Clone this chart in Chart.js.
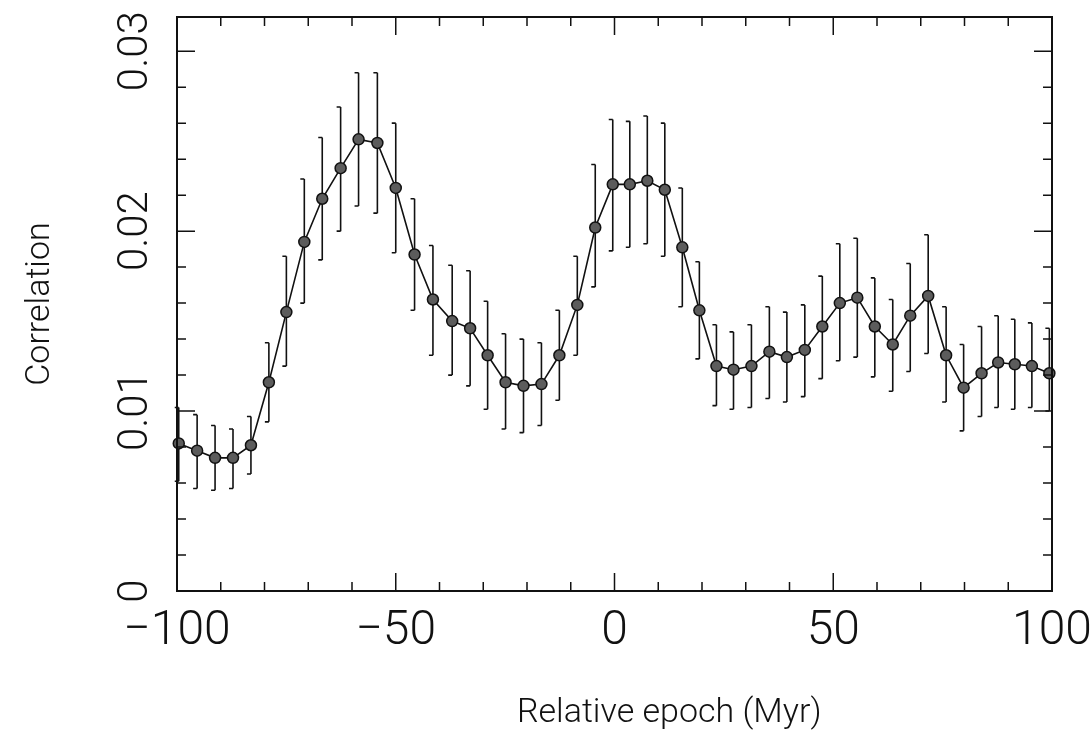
<!DOCTYPE html>
<html>
<head>
<meta charset="utf-8">
<script src="https://cdn.jsdelivr.net/npm/chart.js@4.4.1/dist/chart.umd.min.js"></script>
<style>
  html, body { margin: 0; padding: 0; background: #ffffff; }
  #wrap { width: 1090px; height: 747px; position: relative; }
</style>
</head>
<body>
<div id="wrap"><canvas id="c" width="1090" height="747"></canvas></div>
<script>
// ---- data ----
const epochs = [-99.6, -95.4, -91.3, -87.2, -83.1, -79.0, -75.0, -70.9, -66.8, -62.6,
                -58.5, -54.2, -50.0, -45.7, -41.5, -37.1, -33.0, -29.0, -24.9, -20.8,
                -16.7, -12.6, -8.5, -4.4, -0.4, 3.5, 7.5, 11.5, 15.5, 19.4,
                23.3, 27.2, 31.3, 35.4, 39.4, 43.5, 47.5, 51.5, 55.5, 59.5,
                63.6, 67.6, 71.7, 75.8, 79.8, 83.9, 87.7, 91.5, 95.4, 99.4];
const correlation = [0.0082, 0.0078, 0.0074, 0.0074, 0.0081, 0.0116, 0.0155, 0.0194, 0.0218, 0.0235,
                     0.0251, 0.0249, 0.0224, 0.0187, 0.0162, 0.0150, 0.0146, 0.0131, 0.0116, 0.0114,
                     0.0115, 0.0131, 0.0159, 0.0202, 0.0226, 0.0226, 0.0228, 0.0223, 0.0191, 0.0156,
                     0.0125, 0.0123, 0.0125, 0.0133, 0.0130, 0.0134, 0.0147, 0.0160, 0.0163, 0.0147,
                     0.0137, 0.0153, 0.0164, 0.0131, 0.0113, 0.0121, 0.0127, 0.0126, 0.0125, 0.0121];
const errHigh = [0.0102, 0.0098, 0.0092, 0.0090, 0.0097, 0.0138, 0.0186, 0.0229, 0.0252, 0.0269,
                 0.0288, 0.0288, 0.0260, 0.0218, 0.0192, 0.0181, 0.0178, 0.0161, 0.0143, 0.0140,
                 0.0138, 0.0156, 0.0186, 0.0237, 0.0262, 0.0261, 0.0264, 0.0260, 0.0224, 0.0183,
                 0.0148, 0.0144, 0.0148, 0.0158, 0.0155, 0.0159, 0.0175, 0.0193, 0.0196, 0.0174,
                 0.0162, 0.0182, 0.0198, 0.0158, 0.0137, 0.0147, 0.0153, 0.0151, 0.0149, 0.0146];
const errLow = [0.0061, 0.0057, 0.0056, 0.0057, 0.0065, 0.0094, 0.0125, 0.0160, 0.0184, 0.0200,
                0.0214, 0.0210, 0.0188, 0.0156, 0.0131, 0.0120, 0.0114, 0.0101, 0.0090, 0.0088,
                0.0092, 0.0106, 0.0131, 0.0169, 0.0189, 0.0191, 0.0193, 0.0186, 0.0158, 0.0129,
                0.0103, 0.0101, 0.0102, 0.0107, 0.0105, 0.0108, 0.0118, 0.0128, 0.0130, 0.0119,
                0.0111, 0.0122, 0.0132, 0.0105, 0.0089, 0.0097, 0.0102, 0.0101, 0.0102, 0.0100];
const xTickValues = [-100, -50, 0, 50, 100];
const xTickLabels = ['\u2212100', '\u221250', '0', '50', '100'];
const yTickValues = [0, 0.01, 0.02, 0.03];
const yTickLabels = ['0', '0.01', '0.02', '0.03'];
const xMinorTicks = [-100, -90, -80, -70, -60, -50, -40, -30, -20, -10, 0, 10, 20, 30, 40, 50, 60, 70, 80, 90, 100];
const yMinorTicks = [0, 0.002, 0.004, 0.006, 0.008, 0.01, 0.012, 0.014, 0.016, 0.018, 0.02, 0.022, 0.024, 0.026, 0.028, 0.03];
const xTitle = 'Relative epoch (Myr)';
const yTitle = 'Correlation';

// ---- styles ----
const FONT = 'Roboto, "Liberation Sans", sans-serif';
const INK = '#111111';
const MAJOR_LEN = 18, MINOR_LEN = 9;

function isMajor(v, list) {
  return list.some(m => Math.abs(m - v) < 1e-9);
}

const framePlugin = {
  id: 'frameTicks',
  afterDraw(chart) {
    const { ctx, chartArea: a, scales: { x, y } } = chart;
    ctx.save();
    ctx.strokeStyle = INK;
    ctx.lineWidth = 2;
    ctx.strokeRect(a.left, a.top, a.right - a.left, a.bottom - a.top);
    ctx.lineWidth = 1.5;
    ctx.beginPath();
    xMinorTicks.forEach(v => {
      const px = x.getPixelForValue(v);
      const len = isMajor(v, xTickValues) ? MAJOR_LEN : MINOR_LEN;
      ctx.moveTo(px, a.bottom); ctx.lineTo(px, a.bottom - len);
      ctx.moveTo(px, a.top); ctx.lineTo(px, a.top + len);
    });
    yMinorTicks.forEach(v => {
      const py = y.getPixelForValue(v);
      const len = isMajor(v, yTickValues) ? MAJOR_LEN : MINOR_LEN;
      ctx.moveTo(a.left, py); ctx.lineTo(a.left + len, py);
      ctx.moveTo(a.right, py); ctx.lineTo(a.right - len, py);
    });
    ctx.stroke();
    // rotated y tick labels
    ctx.fillStyle = INK;
    ctx.font = '300 42px ' + FONT;
    ctx.textAlign = 'center';
    ctx.textBaseline = 'alphabetic';
    yTickValues.forEach((v, i) => {
      const py = y.getPixelForValue(v);
      ctx.save();
      ctx.translate(a.left - 30, py);
      ctx.rotate(-Math.PI / 2);
      ctx.fillText(yTickLabels[i], 0, 0);
      ctx.restore();
    });
    // x axis title (sits right of centre in the reference)
    ctx.font = '300 34px ' + FONT;
    ctx.textAlign = 'center';
    ctx.textBaseline = 'middle';
    ctx.fillText(xTitle, x.getPixelForValue(12.5), 713);
    ctx.restore();
  }
};

const errorBarPlugin = {
  id: 'errorBars',
  beforeDatasetsDraw(chart) {
    const { ctx, scales: { x, y } } = chart;
    ctx.save();
    ctx.strokeStyle = INK;
    ctx.lineWidth = 1.6;
    ctx.beginPath();
    epochs.forEach((e, i) => {
      const px = x.getPixelForValue(e);
      const yh = y.getPixelForValue(errHigh[i]);
      const yl = y.getPixelForValue(errLow[i]);
      ctx.moveTo(px, yh); ctx.lineTo(px, yl);
      ctx.moveTo(px - 4, yh); ctx.lineTo(px, yh);
      ctx.moveTo(px - 4, yl); ctx.lineTo(px, yl);
    });
    ctx.stroke();
    ctx.restore();
  }
};

const points = epochs.map((e, i) => ({ x: e, y: correlation[i] }));

new Chart(document.getElementById('c'), {
  type: 'line',
  data: {
    datasets: [{
      data: points,
      borderColor: INK,
      borderWidth: 1.6,
      tension: 0,
      pointRadius: 5.5,
      pointBackgroundColor: '#5c5c5c',
      pointBorderColor: INK,
      pointBorderWidth: 1.5,
      clip: false
    }]
  },
  options: {
    responsive: false,
    animation: false,
    devicePixelRatio: 1,
    layout: { padding: { left: 0, top: 17, right: 38, bottom: 0 } },
    plugins: { legend: { display: false }, tooltip: { enabled: false } },
    scales: {
      x: {
        type: 'linear',
        min: -100, max: 100,
        position: 'bottom',
        grid: { display: false, drawTicks: false },
        border: { display: false },
        afterBuildTicks: s => { s.ticks = xTickValues.map(v => ({ value: v })); },
        ticks: {
          autoSkip: false, maxRotation: 0, minRotation: 0,
          padding: 12,
          color: INK,
          font: { family: FONT, size: 48, weight: '300' },
          callback: v => xTickLabels[xTickValues.indexOf(v)]
        },
        title: { display: false },
        afterFit: s => { s.height = 156; s.paddingLeft = 0; s.paddingRight = 0; }
      },
      y: {
        type: 'linear',
        min: 0, max: 0.0319,
        position: 'left',
        grid: { display: false, drawTicks: false },
        border: { display: false },
        ticks: { display: false },
        title: {
          display: true, text: yTitle, color: INK,
          font: { family: FONT, size: 34, weight: '300' },
          padding: { top: 20, bottom: 0 }
        },
        afterFit: s => { s.width = 177; s.paddingTop = 0; s.paddingBottom = 0; }
      }
    }
  },
  plugins: [errorBarPlugin, framePlugin]
});
</script>
</body>
</html>
